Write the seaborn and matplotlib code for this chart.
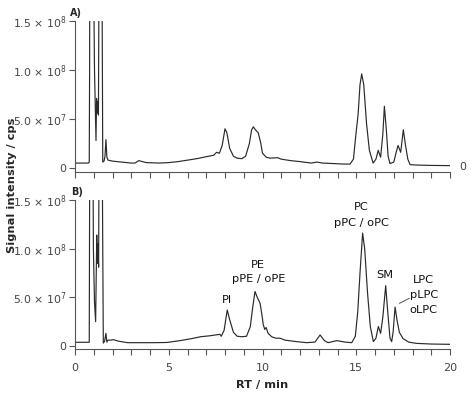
import matplotlib
matplotlib.use("Agg")
import matplotlib.pyplot as plt
import seaborn as sns
import pandas as pd
import numpy as np

# ---- data (RT in min, intensity in units of 1e7 cps) ----
rt_a = [0.0, 0.70, 0.76, 0.78, 0.80, 0.86, 0.94, 1.04, 1.12, 1.15, 1.18, 1.21, 1.25,
        1.30, 1.36, 1.42, 1.48, 1.55, 1.60, 1.65, 1.70, 1.76, 2.0, 2.5, 3.0, 3.2, 3.4,
        3.8, 4.5, 5.0, 5.5, 6.0, 6.5, 7.0, 7.4, 7.55, 7.7, 7.85, 8.0, 8.1, 8.25, 8.45,
        8.65, 8.9, 9.1, 9.3, 9.42, 9.51, 9.62, 9.77, 9.9, 10.0, 10.2, 10.4, 10.8, 11.0,
        11.5, 12.0, 12.6, 12.9, 13.2, 13.8, 14.3, 14.67, 14.85, 14.97, 15.1, 15.2, 15.29,
        15.4, 15.55, 15.7, 15.9, 16.05, 16.17, 16.3, 16.42, 16.5, 16.6, 16.7, 16.8,
        17.0, 17.13, 17.23, 17.37, 17.51, 17.62, 17.75, 17.87, 18.2, 19.0, 20.0]
int_a = [0.5, 0.5, 0.6, 10.7, 30.0, 30.0, 30.0, 10.0, 2.8, 7.1, 5.6, 6.8, 5.4,
         30.0, 30.0, 30.0, 0.6, 0.7, 1.2, 2.9, 1.1, 0.8, 0.7, 0.6, 0.5, 0.5, 0.75,
         0.55, 0.5, 0.55, 0.65, 0.8, 0.95, 1.15, 1.3, 1.6, 1.5, 2.3, 4.0, 3.6, 2.0, 1.2,
         1.0, 0.95, 1.2, 2.5, 3.9, 4.2, 3.9, 3.6, 2.6, 1.5, 1.1, 1.0, 1.05, 0.9,
         0.75, 0.65, 0.5, 0.6, 0.5, 0.45, 0.4, 0.4, 0.9, 3.2, 5.5, 8.5, 9.6,
         8.5, 4.5, 1.8, 0.5, 0.9, 1.8, 1.1, 3.5, 6.3, 4.0, 1.2, 0.45,
         0.6, 1.6, 2.3, 1.6, 3.9, 2.4, 0.9, 0.34, 0.3, 0.26, 0.24]

rt_b = [0.0, 0.76, 0.80, 0.86, 0.94, 0.98, 1.04, 1.10, 1.16, 1.19, 1.22, 1.26, 1.30,
        1.36, 1.42, 1.51, 1.58, 1.65, 1.70, 1.75, 1.9, 2.05, 2.3, 2.8, 3.5, 4.2, 4.9,
        5.6, 6.2, 6.7, 7.2, 7.73, 7.8, 7.95, 8.12, 8.25, 8.45, 8.65, 8.9, 9.15, 9.35,
        9.48, 9.6, 9.72, 9.87, 9.97, 10.04, 10.12, 10.19, 10.3, 10.49, 10.7, 10.93,
        11.2, 11.8, 12.36, 12.8, 13.07, 13.3, 13.5, 13.96, 14.4, 14.76, 14.95, 15.08,
        15.2, 15.34, 15.45, 15.6, 15.75, 15.91, 16.05, 16.18, 16.3, 16.42, 16.57, 16.68,
        16.8, 16.89, 16.97, 17.07, 17.18, 17.3, 17.5, 17.8, 18.2, 19.0, 20.0]
int_b = [0.38, 0.38, 30.0, 30.0, 30.0, 10.0, 4.5, 2.5, 11.4, 8.5, 10.5, 8.1, 30.0,
         30.0, 30.0, 0.3, 0.5, 1.3, 0.4, 0.6, 0.6, 0.65, 0.5, 0.34, 0.34, 0.34, 0.36,
         0.55, 0.75, 0.95, 1.05, 1.2, 1.0, 1.6, 3.7, 2.7, 1.4, 1.0, 0.95, 1.0, 2.0,
         4.0, 5.6, 5.0, 4.4, 3.2, 2.2, 1.7, 1.9, 1.3, 0.95, 0.8, 0.8,
         0.6, 0.45, 0.34, 0.4, 1.13, 0.55, 0.34, 0.55, 0.4, 0.34, 1.0, 3.5,
         7.5, 11.6, 10.0, 5.5, 2.0, 0.45, 0.8, 2.0, 1.3, 3.0, 6.2, 3.5,
         0.8, 0.45, 1.5, 4.0, 2.6, 1.4, 0.75, 0.4, 0.27, 0.2, 0.17]

ytick_vals = [0, 5e7, 1e8, 1.5e8]
ytick_labels = ["0", "5.0 × 10$^{7}$", "1.0 × 10$^{8}$", "1.5 × 10$^{8}$"]
xtick_major = [0, 5, 10, 15, 20]
xtick_labels = ["0", "5", "10", "15", "20"]
xtick_minor = list(range(0, 21))

# lipid class labels for panel B: (text, RT, intensity)
label_text = ["PI", "PE", "pPE / oPE", "PC", "pPC / oPC", "SM", "LPC", "pLPC", "oLPC"]
label_rt = [8.09, 9.78, 9.78, 15.29, 15.29, 16.5, 18.6, 18.6, 18.6]
label_int = [4.72e7, 8.32e7, 6.85e7, 1.43e8, 1.26e8, 7.3e7, 6.8e7, 5.2e7, 3.7e7]

sns.set_style("ticks")
plt.rcParams["font.family"] = ["DejaVu Sans"]
plt.rcParams["mathtext.fontset"] = "dejavusans"

fig = plt.figure(figsize=(4.74, 4.04), dpi=100)
W, H = 474, 404
def ax_rect(x0, x1, ytop, ybot):
    return [x0 / W, 1 - ybot / H, (x1 - x0) / W, (ybot - ytop) / H]

ax_a = fig.add_axes(ax_rect(75, 450, 21, 171.5))
ax_b = fig.add_axes(ax_rect(75, 450, 200, 349))

df_a = pd.DataFrame({"rt": rt_a, "sig": np.array(int_a) * 1e7})
df_b = pd.DataFrame({"rt": rt_b, "sig": np.array(int_b) * 1e7})

line_kw = dict(color="#2a2a2a", linewidth=0.85, sort=False, estimator=None)
sns.lineplot(data=df_a, x="rt", y="sig", ax=ax_a, **line_kw)
sns.lineplot(data=df_b, x="rt", y="sig", ax=ax_b, **line_kw)

for ax, ybot in ((ax_a, -3.6e6), (ax_b, -3.1e6)):
    ax.set_xlim(0, 20)
    ax.set_ylim(ybot, 1.5e8)
    ax.set_xlabel("")
    ax.set_ylabel("")
    for s in ("top", "right"):
        ax.spines[s].set_visible(False)
    for s in ("left", "bottom"):
        ax.spines[s].set_color("#555555")
        ax.spines[s].set_linewidth(0.8)
    ax.set_yticks(ytick_vals)
    ax.set_yticklabels(ytick_labels)
    ax.set_xticks(xtick_major)
    ax.set_xticks(xtick_minor, minor=True)
    ax.tick_params(axis="both", which="both", direction="out", color="#555555",
                   labelcolor="#444444", labelsize=7.8, width=0.8)
    ax.tick_params(axis="x", which="both", length=4)
    ax.tick_params(axis="y", which="major", length=4, pad=2)

ax_a.set_xticklabels([])
ax_b.set_xticklabels(xtick_labels)
ax_b.tick_params(axis="x", labelsize=8, pad=6)

for txt, x, y in zip(label_text, label_rt, label_int):
    ax_b.text(x, y, txt, ha="center", va="center", fontsize=8.2, color="#111111")
ax_b.plot([17.3, 17.83], [4.38e7, 4.9e7], color="#555555", linewidth=0.7)

fig.text(76 / W, 1 - 13 / H, "A)", fontsize=7, fontweight="bold", ha="center", va="center")
fig.text(77 / W, 1 - 192 / H, "B)", fontsize=7, fontweight="bold", ha="center", va="center")
fig.text(463 / W, 1 - 167 / H, "0", fontsize=7.8, color="#444444", ha="center", va="center")
fig.text(12 / W, 1 - 185 / H, "Signal intensity / cps", rotation=90, fontsize=8.2,
         fontweight="bold", ha="center", va="center")
fig.text(262 / W, 1 - 385 / H, "RT / min", fontsize=8.2, fontweight="bold",
         ha="center", va="center")

fig.savefig("out.png", dpi=100, facecolor="white")
